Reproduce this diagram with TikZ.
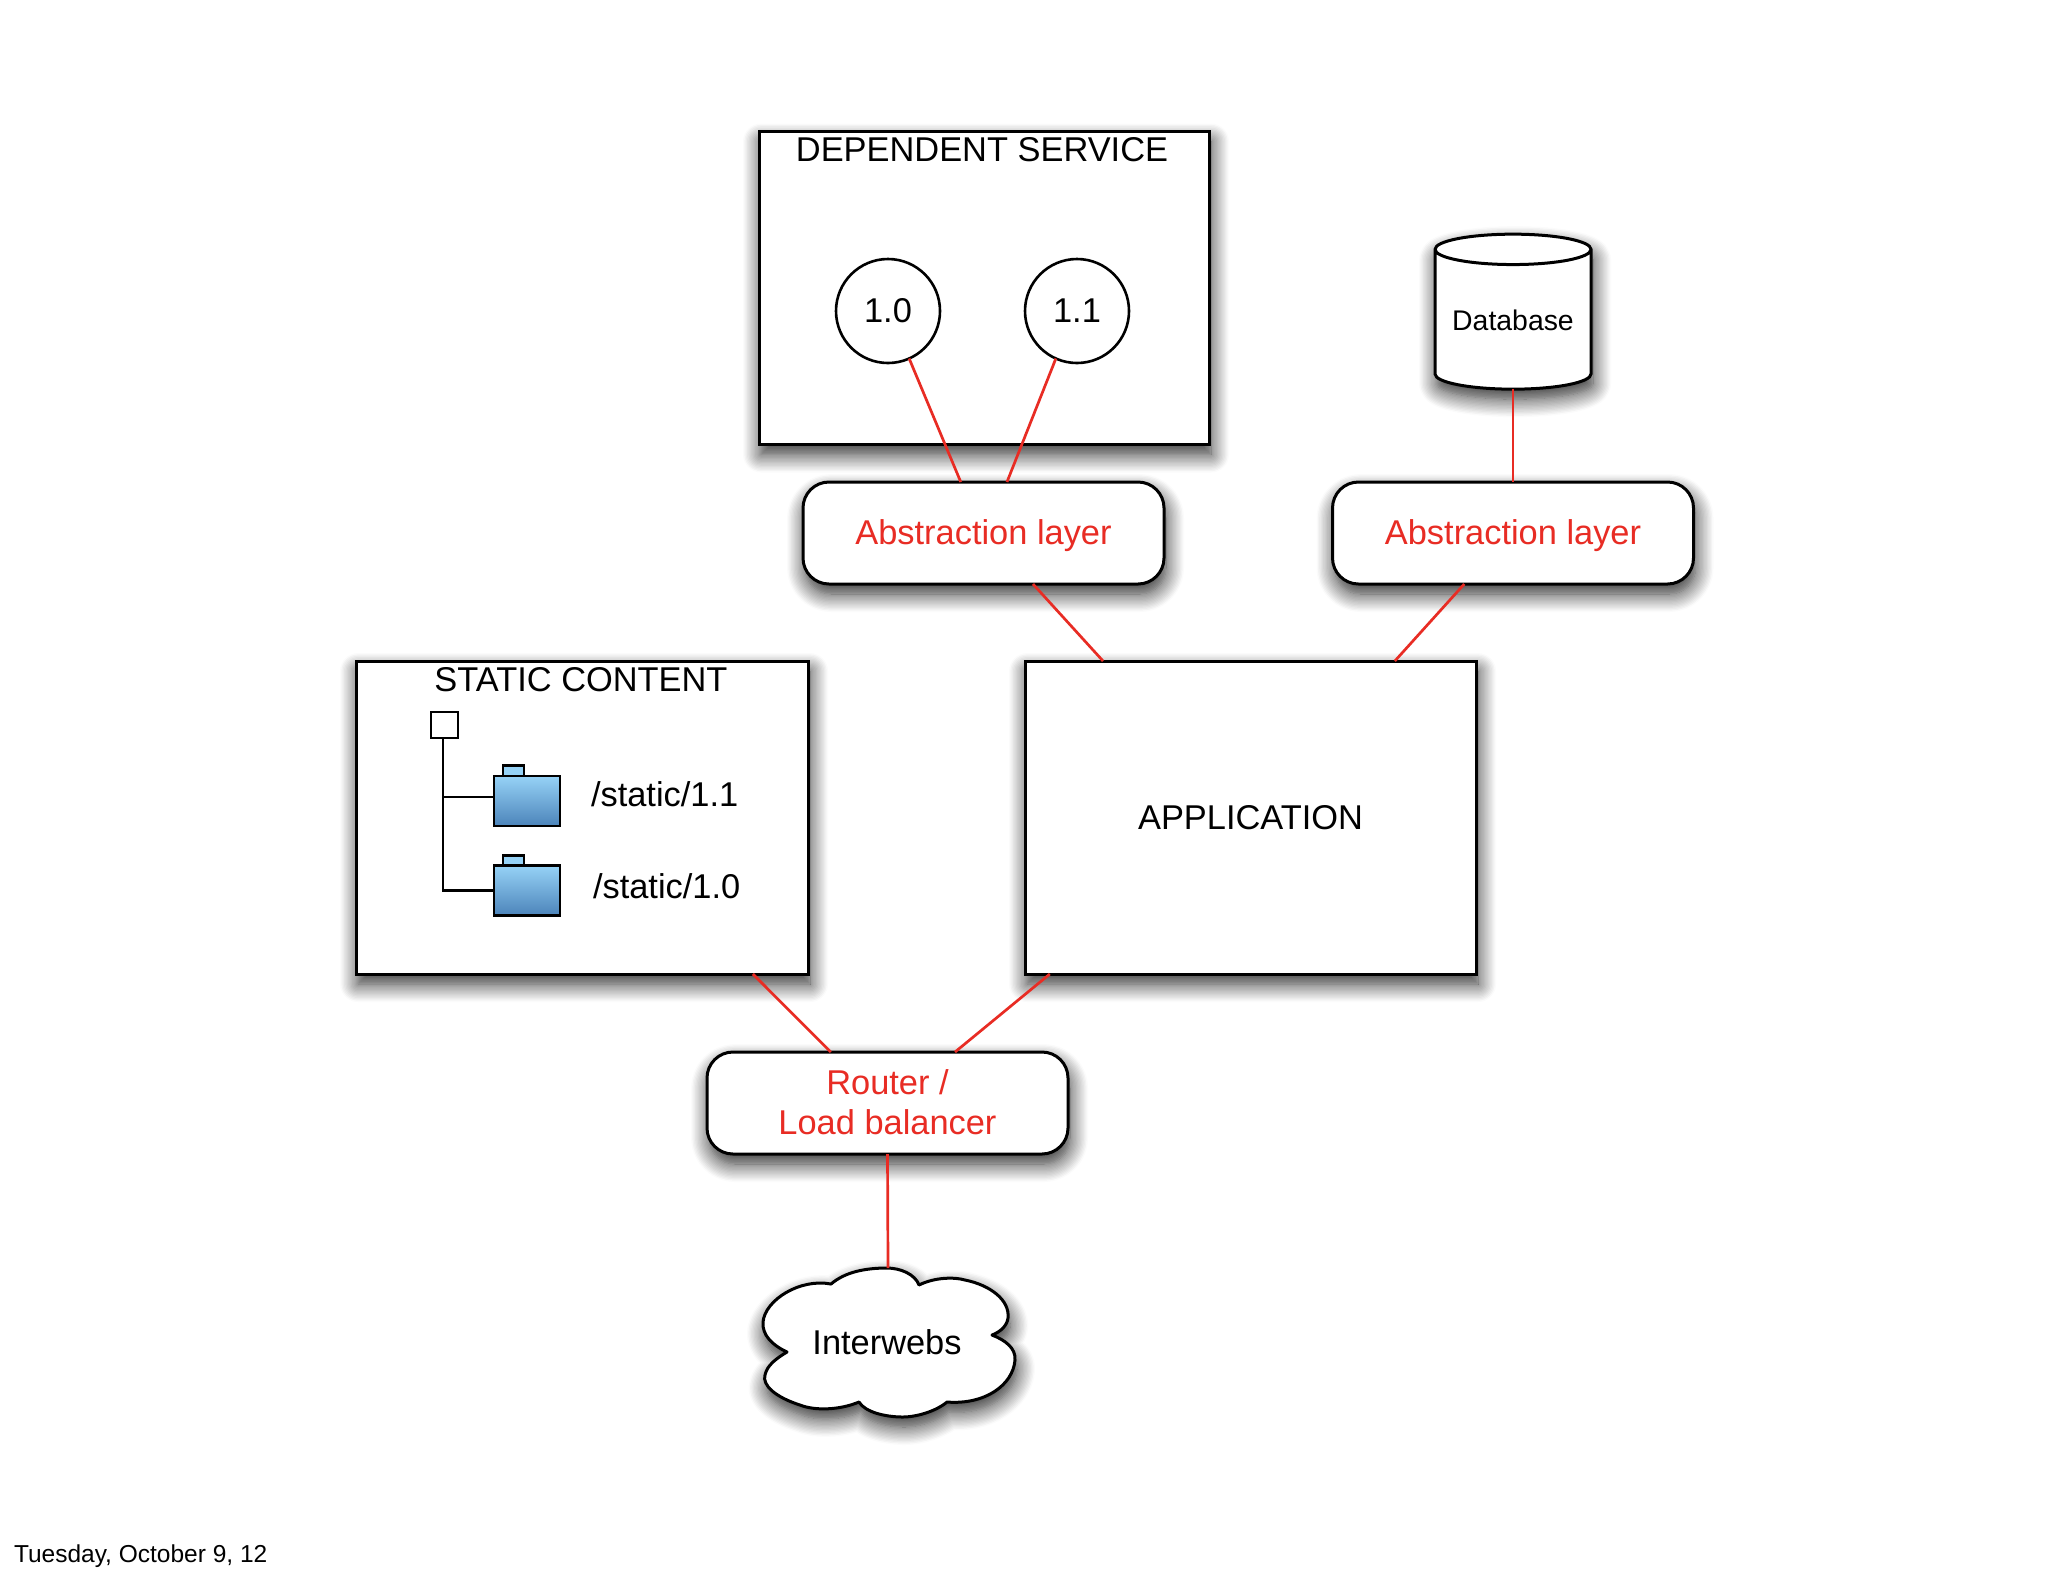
\documentclass[tikz,border=0pt]{standalone}
\usepackage{fontspec}
\setmainfont{Liberation Sans}
\usetikzlibrary{calc,shapes.geometric,shadows.blur}
\definecolor{linkred}{RGB}{232,44,36}
\definecolor{foldertop}{RGB}{150,210,246}
\definecolor{folderbot}{RGB}{76,132,186}
\tikzset{
  every node/.style={font=\fontsize{17.2}{20}\selectfont, inner sep=0pt, outer sep=0pt},
  soft/.style={blur shadow={shadow xshift=1pt, shadow yshift=-5pt, shadow blur radius=9pt, shadow blur steps=14, shadow opacity=85}},
  box/.style={draw, line width=1.5pt, fill=white, soft, minimum height=156.5pt},
  pill/.style={draw, line width=1.5pt, fill=white, soft, rounded corners=13pt,
    minimum width=180.5pt, minimum height=51pt, text=linkred, align=center},
  ver/.style={draw, circle, line width=1.3pt, fill=white, minimum size=52pt},
  folder/.style={draw, line width=1.4pt, top color=foldertop, bottom color=folderbot,
    minimum width=33pt, minimum height=25pt},
  tab/.style={draw, line width=1.4pt, fill=foldertop, minimum width=10.5pt, minimum height=5.5pt},
  link/.style={draw=linkred, line width=1.35pt},
  tree/.style={draw, line width=1.3pt}
}
\begin{document}
\begin{tikzpicture}[x=0.5pt,y=-0.5pt]
  \useasboundingbox (0,0) rectangle (2048,1576);

  % Boxes
  \node[box, minimum width=225pt] (dep) at (984,288) {};
  \node[box, minimum width=226pt] (static) at (582,817.5) {};
  \node[box, minimum width=225.5pt] (app) at (1250.5,817.5) {APPLICATION};
  \node (deptitle) at (982,150) {DEPENDENT SERVICE};
  \node (stattitle) at (581,680) {STATIC CONTENT};

  % Versions
  \node[ver] (v10) at (888,311) {1.0};
  \node[ver] (v11) at (1077,311) {1.1};

  % Database
  \node[draw, line width=1.5pt, fill=white, soft, cylinder, shape border rotate=90,
    aspect=0.25, minimum width=78pt, minimum height=77.5pt,
    font=\fontsize{14.2}{17}\selectfont] (db) at (1513,320) {Database};

  % Abstraction layers and router
  \node[pill, text height=15.1pt] (abs1) at (983.5,533) {Abstraction layer};
  \node[pill, text height=15.1pt] (abs2) at (1513,533) {Abstraction layer};
  \node[pill, text depth=1.3pt] (router) at (887.5,1103) {Router /\\Load balancer};

  % Static tree
  \node[draw, line width=1.2pt, fill=white, minimum width=13.5pt, minimum height=13pt] (root) at (444.5,725) {};
  \node[tab] (tab1) at (513.5,771) {};
  \node[folder] (f1) at (527,801) {};
  \node[tab] (tab2) at (513.5,861) {};
  \node[folder] (f2) at (527,890.5) {};
  \node[anchor=west] (s11) at (591,794) {/static/1.1};
  \node[anchor=west] (s10) at (593,886) {/static/1.0};
  \path[tree] ($(root.south)+(-1.5,0)$) |- ($(f1.north west)!.42!(f1.south west)$);
  \path[tree] ($(root.south)+(-1.5,0)$) |- (f2.west);

  % Cloud
  \path[draw, line width=1.5pt, line join=round, fill=white, soft]
    (831,1284) .. controls (845,1272) and (865,1268) .. (887,1268)
    .. controls (900,1268) and (915,1274) .. (919,1285)
    .. controls (935,1277) and (955,1277) .. (965,1280)
    .. controls (990,1285) and (1010,1300) .. (1008,1318)
    .. controls (1007,1326) and (1000,1332) .. (992,1335)
    .. controls (1005,1340) and (1016,1348) .. (1015,1360)
    .. controls (1013,1385) and (985,1405) .. (947,1402)
    .. controls (935,1412) and (915,1417) .. (903,1417)
    .. controls (885,1417) and (865,1412) .. (859,1402)
    .. controls (840,1410) and (815,1411) .. (800,1405)
    .. controls (775,1397) and (762,1385) .. (765,1375)
    .. controls (767,1365) and (777,1358) .. (787,1352)
    .. controls (772,1345) and (762,1335) .. (763,1322)
    .. controls (765,1300) and (800,1278) .. (831,1284) -- cycle;
  \coordinate (webtop) at (888,1268);
  \node (web) at (887,1342) {Interwebs};

  % Red links
  \draw[link] (v10.-66) -- ($(abs1.north west)!.437!(abs1.north east)$);
  \draw[link] (v11.-114) -- ($(abs1.north west)!.565!(abs1.north east)$);
  \draw[link] (db.south) -- (abs2.north);
  \draw[link] ($(abs1.south west)!.637!(abs1.south east)$) -- ($(app.north west)!.173!(app.north east)$);
  \draw[link] ($(abs2.south west)!.365!(abs2.south east)$) -- ($(app.north west)!.82!(app.north east)$);
  \draw[link] ($(static.south west)!.878!(static.south east)$) -- ($(router.north west)!.343!(router.north east)$);
  \draw[link] ($(app.south west)!.055!(app.south east)$) -- ($(router.north west)!.687!(router.north east)$);
  \draw[link] (router.south) -- (webtop);

  \node[anchor=west, font=\fontsize{12.25}{14}\selectfont] (date) at (14,1556.5) {Tuesday, October 9, 12};
\end{tikzpicture}
\end{document}
